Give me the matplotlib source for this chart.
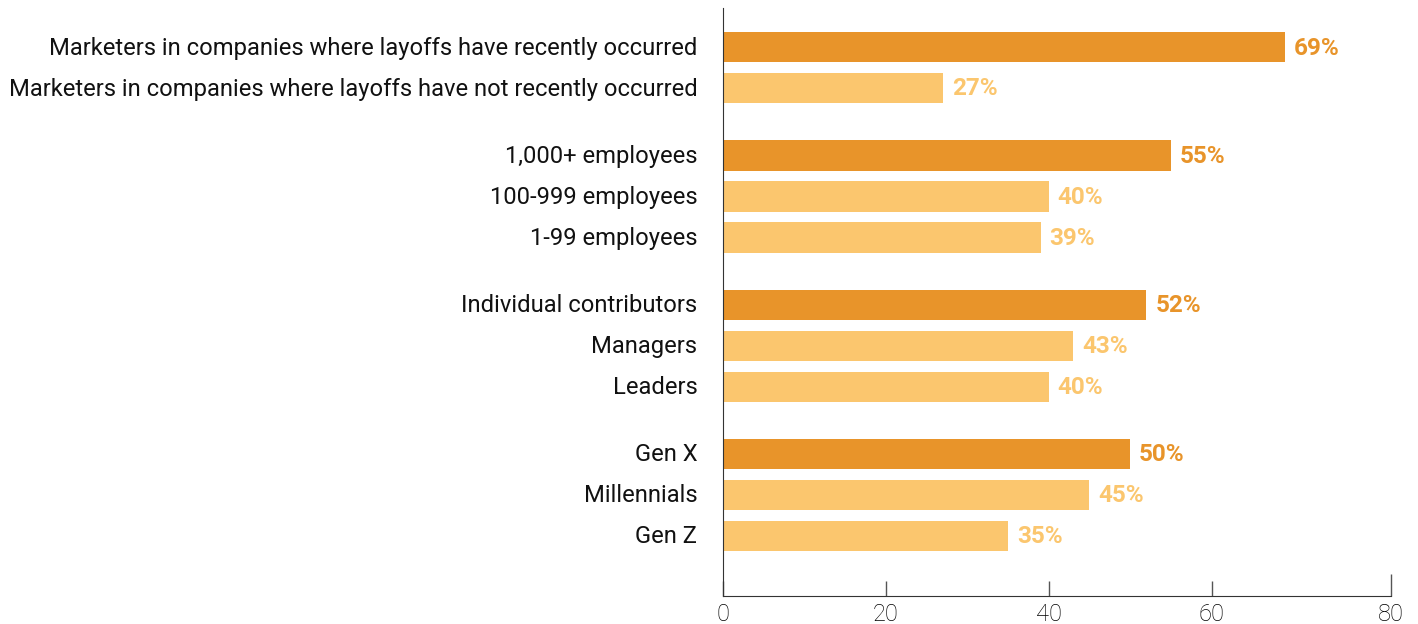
import numpy as np
import matplotlib.pyplot as plt

plt.rcParams['font.family'] = ['Roboto', 'DejaVu Sans']

categories = [
    "Marketers in companies where layoffs have recently occurred",
    "Marketers in companies where layoffs have not recently occurred",
    "1,000+ employees",
    "100-999 employees",
    "1-99 employees",
    "Individual contributors",
    "Managers",
    "Leaders",
    "Gen X",
    "Millennials",
    "Gen Z",
]
values = [69, 27, 55, 40, 39, 52, 43, 40, 50, 45, 35]
group_sizes = [2, 3, 3, 3]
tick_labels = ["0", "20", "40", "60", "80"]

dark = "#E8942A"
light = "#FBC66E"

# y positions: one step per bar, extra gap between groups
gap = 0.65
ypos = []
start = 0.0
for size in group_sizes:
    for i in range(size):
        ypos.append(start + i)
    start += size + gap
ypos = np.array(ypos)

colors = []
for size in group_sizes:
    colors += [dark] + [light] * (size - 1)

fig = plt.figure(figsize=(14.18, 6.24), dpi=100)
ax = fig.add_axes([723 / 1418, 28 / 624, (1390.7 - 723) / 1418, (616 - 28) / 624])

ax.barh(ypos, values, height=0.74, color=colors)

for y, v, c in zip(ypos, values, colors):
    ax.text(v + 1.1, y + 0.02, f"{v}%", va="center", ha="left", color=c,
            fontsize=17.5, fontweight="bold")

ax.set_yticks(ypos - 0.04)
ax.set_yticklabels(categories, fontsize=17.1, color="#111111")
ax.set_ylim(ypos[-1] + 1.47, ypos[0] - 0.96)
ax.set_xlim(0, 82)
ax.set_xticks([0, 20, 40, 60, 82])
ax.set_xticklabels(tick_labels, fontsize=17, fontweight="light", color="#000000")

ax.tick_params(axis="y", length=0, pad=18.5)
ax.tick_params(axis="x", direction="in", length=11, width=1, color="#555555", pad=5)
ax.xaxis.get_major_ticks()[-1].tick1line.set_markersize(16)

for side in ["top", "right"]:
    ax.spines[side].set_visible(False)
ax.spines["left"].set_color("#333333")
ax.spines["bottom"].set_color("#333333")

fig.savefig("out.png", dpi=100)
